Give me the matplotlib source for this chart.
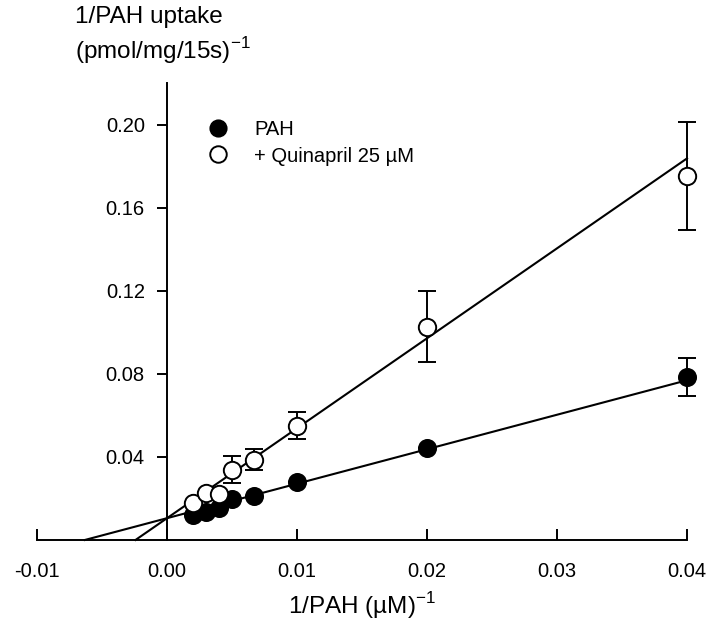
import numpy as np
import matplotlib
matplotlib.use("Agg")
import matplotlib.pyplot as plt

plt.rcParams['font.family'] = ['Liberation Sans', 'DejaVu Sans']

# data
inv_pah = [0.002, 0.003, 0.004, 0.005, 0.00667, 0.01, 0.02, 0.04]

pah_y = [0.0120, 0.0135, 0.0154, 0.0198, 0.0210, 0.0280, 0.0443, 0.0786]
pah_err = [0, 0, 0, 0, 0, 0, 0, 0.0092]

quin_y = [0.0178, 0.0225, 0.0223, 0.0337, 0.0386, 0.0549, 0.1027, 0.1754]
quin_err = [0, 0, 0, 0.0065, 0.005, 0.0065, 0.017, 0.026]

# regression lines (intercept, slope)
pah_fit = (0.0105, 1.66)
quin_fit = (0.0105, 4.33)

xticks = [-0.01, 0.00, 0.01, 0.02, 0.03, 0.04]
yticks = [0.04, 0.08, 0.12, 0.16, 0.20]

fig = plt.figure(figsize=(7.07, 6.24), dpi=100)
ax = fig.add_axes([37/707, 1-540/624, 650/707, (540-83)/624])

# fitted lines from x-intercept to last x
for b, m in (pah_fit, quin_fit):
    xs = np.array([-b/m, inv_pah[-1]])
    ax.plot(xs, b + m*xs, color='black', lw=1.5, zorder=2, clip_on=False)

ax.errorbar(inv_pah, pah_y, yerr=pah_err, fmt='none', ecolor='black',
            elinewidth=1.4, capsize=6.5, capthick=1.4, zorder=3, clip_on=False)
ax.plot(inv_pah, pah_y, 'o', ms=12.5, mfc='black', mec='black', mew=1.2,
        label='PAH', zorder=4, clip_on=False)
ax.errorbar(inv_pah, quin_y, yerr=quin_err, fmt='none', ecolor='black',
            elinewidth=1.4, capsize=6.5, capthick=1.4, zorder=5, clip_on=False)
ax.plot(inv_pah, quin_y, 'o', ms=12.5, mfc='white', mec='black', mew=1.4,
        label='+ Quinapril 25 µM', zorder=6, clip_on=False)

ax.set_xlim(-0.01, 0.04)
ax.set_ylim(0, 0.22)
ax.spines['top'].set_visible(False)
ax.spines['right'].set_visible(False)
ax.spines['left'].set_position(('data', 0))
ax.spines['left'].set_linewidth(1.4)
ax.spines['bottom'].set_linewidth(1.4)

ax.set_xticks(xticks)
ax.set_xticklabels(['-0.01', '0.00', '0.01', '0.02', '0.03', '0.04'])
ax.set_yticks(yticks)
ax.set_yticklabels(['%.2f' % v for v in yticks])
ax.tick_params(axis='x', direction='in', length=8, width=1.4, pad=16, labelsize=14.5)
ax.tick_params(axis='y', direction='out', length=7, width=1.4, pad=9, labelsize=14.5)
ax.patch.set_visible(False)

ax.legend(loc='upper left', bbox_to_anchor=(0.247, 0.94), frameon=False,
          fontsize=14.5, handletextpad=1.3, labelspacing=0.35, borderpad=0,
          handlelength=1.0, markerscale=0.95)

fig.text(362/707, 1-606/624, '1/PAH (µM)$^{\\mathregular{-1}}$', ha='center', va='center',
         fontsize=17.5)
fig.text(75/707, 1-6/624, '1/PAH uptake\n(pmol/mg/15s)$^{\\mathregular{-1}}$', ha='left',
         va='top', fontsize=17.5, linespacing=1.3)

fig.savefig('out.png', dpi=100)
